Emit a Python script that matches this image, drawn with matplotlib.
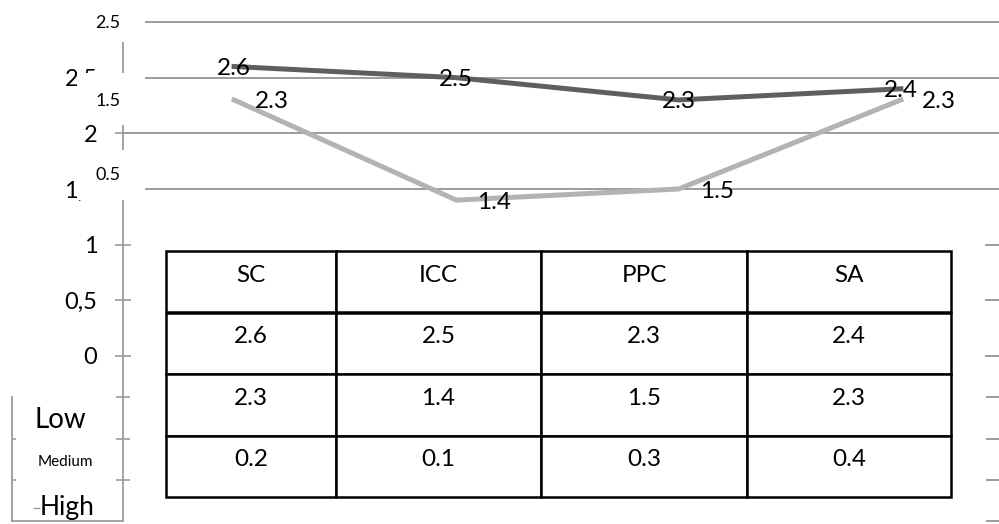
import numpy as np
import matplotlib.pyplot as plt
from matplotlib.patches import Rectangle
from matplotlib.transforms import blended_transform_factory

W, H = 999, 524

# data
categories = ['SC', 'ICC', 'PPC', 'SA']
series_dark = [2.6, 2.5, 2.3, 2.4]
series_light = [2.3, 1.4, 1.5, 2.3]
gap_row = [0.2, 0.1, 0.3, 0.4]
main_ticks = [0, 0.5, 1, 1.5, 2, 2.5]
main_tick_labels = ['0', '0,5', '1', '1,5', '2', '2,5']
ghost_labels = ['2.5', '1.5', '0.5']
level_labels = ['Low', 'Medium', 'High']

plt.rcParams['font.family'] = ['Lato', 'DejaVu Sans']

GRID = '#9c9c9c'
DARK = '#5f5f5f'
LIGHT = '#b3b3b3'


def box(x0, y0, x1, y1):
    # pixel box (origin top-left) -> figure fraction [l, b, w, h]
    return [x0 / W, 1 - y1 / H, (x1 - x0) / W, (y1 - y0) / H]


fig = plt.figure(figsize=(W / 100, H / 100), dpi=100)

# --- line chart ---
ax = fig.add_axes(box(123, 22, 1012, 356))
ax.patch.set_visible(False)
x = np.arange(len(categories))
ax.set_xlim(-0.5, len(categories) - 0.5)
ax.set_ylim(0, 3)
for s in ['top', 'right', 'bottom']:
    ax.spines[s].set_visible(False)
ax.spines['left'].set_color(GRID)
ax.spines['left'].set_linewidth(1.3)
ax.set_xticks([])
ax.set_yticks(main_ticks, main_tick_labels)
ax.tick_params(axis='y', direction='inout', length=11, width=1.2, color=GRID,
               labelsize=17, pad=13)

for g in [1.5, 2, 2.5, 3]:
    ax.axhline(g, color=GRID, lw=1.4, zorder=1, clip_on=False)
# short dashes on the far right
for g in [0, 0.5, 1]:
    ax.axhline(g, xmin=0.971, xmax=1, color=GRID, lw=1.4, clip_on=False)

ax.plot(x, series_light, color=LIGHT, lw=3.6, zorder=3)
ax.plot(x, series_dark, color=DARK, lw=3.6, zorder=4)

for i, v in enumerate(series_dark):
    ax.annotate(f'{v}', (x[i], v), ha='center', va='center_baseline',
                fontsize=17.5, zorder=6)
for i, v in enumerate(series_light):
    ax.annotate(f'{v}', (x[i], v), xytext=(38, 0), textcoords='offset pixels',
                ha='center', va='center_baseline', fontsize=17.5, zorder=6)

# --- Low / Medium / High box ---
ax2 = fig.add_axes(box(12, 356, 123, 521))
ax2.patch.set_visible(False)
ax2.set_xlim(0, 1)
ax2.set_ylim(0, 4)
ax2.spines['top'].set_visible(False)
for s in ['left', 'right', 'bottom']:
    ax2.spines[s].set_color(GRID)
    ax2.spines[s].set_linewidth(1.3)
ax2.spines['left'].set_bounds(0, 3)
ax2.yaxis.tick_right()
ax2.set_yticks([1, 2, 3], [])
ax2.set_xticks([])
ax2.tick_params(axis='y', direction='inout', length=10, width=1.2, color=GRID)
ax2.hlines([1, 2], 0, 0.04, color=GRID, lw=1.2)
ax2.hlines(0.31, 0.19, 0.25, color=GRID, lw=1.0)

trans = blended_transform_factory(fig.transFigure, ax2.transData)
ax2.hlines([0, 1, 2, 3], 986 / W, 1.0, transform=trans, color=GRID, lw=1.4,
           clip_on=False)

ax2.text(0.2, 2.25, level_labels[0], fontsize=20, va='baseline')
ax2.text(0.23, 1.33, level_labels[1], fontsize=11, va='baseline')
ax2.text(0.25, 0.15, level_labels[2], fontsize=19, va='baseline', clip_on=False)

# --- white label boxes over the top of the axis ---
for (y0, y1), lab, ly in zip([(0, 42), (73, 125), (150, 200)], ghost_labels,
                             [22, 100, 174]):
    fig.add_artist(Rectangle((77 / W, 1 - y1 / H), 68 / W, (y1 - y0) / H,
                             transform=fig.transFigure, facecolor='white',
                             edgecolor='none', zorder=5))
    fig.text(108 / W, 1 - ly / H, lab, ha='center', va='center_baseline',
             fontsize=13, zorder=6)

# --- data table ---
tax = fig.add_axes(box(166, 251, 951, 497))
tax.axis('off')
col_widths = np.array([170, 205, 206, 204], dtype=float)
rows = [categories,
        [str(v) for v in series_dark],
        [str(v) for v in series_light],
        [str(v) for v in gap_row]]
tab = tax.table(cellText=rows, cellLoc='center',
                colWidths=list(col_widths / col_widths.sum()), bbox=[0, 0, 1, 1])
tab.auto_set_font_size(False)
tab.set_fontsize(17.5)
for cell in tab.get_celld().values():
    cell.set_linewidth(1.8)
    cell.set_edgecolor('black')
    cell.get_text().set_va('baseline')

fig.savefig('out.png', dpi=100)
